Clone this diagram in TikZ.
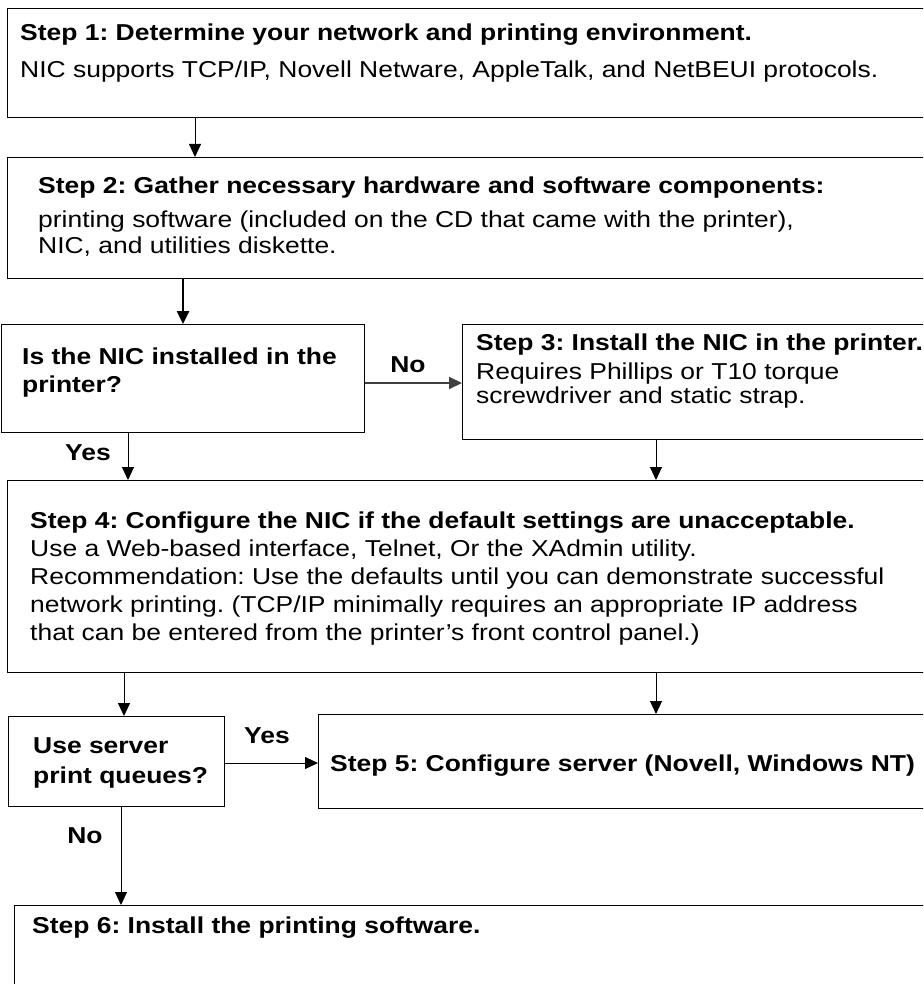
\documentclass[tikz,border=0pt]{standalone}
\usepackage{fontspec}
\setmainfont[FakeStretch=1.15]{Liberation Sans}
\usetikzlibrary{arrows.meta}
\begin{document}
\frenchspacing
\begin{tikzpicture}[x=1pt,y=-1pt,
  box/.style={draw=black, line width=1.3pt, rectangle, inner sep=0pt, anchor=north west},
  txt/.style={inner sep=0pt, anchor=base west, align=left, font=\fontsize{23}{28}\selectfont},
  bt/.style={txt, font=\fontsize{23}{28}\selectfont\bfseries},
  arr/.style={-{Triangle[length=13pt,width=12pt]}, line width=1pt},
  lab/.style={inner sep=0pt, anchor=base, font=\fontsize{23}{28}\selectfont\bfseries}]
\useasboundingbox (0,0) rectangle (923,984);
\clip (0,0) rectangle (923,984);
% boxes
\node[box, minimum width=930pt, minimum height=109pt] (b1) at (7,8) {};
\node[box, minimum width=930pt, minimum height=121pt] (b2) at (7,157) {};
\node[box, minimum width=363pt, minimum height=108pt] (d1) at (0.7,324) {};
\node[box, minimum width=500pt, minimum height=115pt] (b3) at (462,324) {};
\node[box, minimum width=930pt, minimum height=192pt] (b4) at (7,480) {};
\node[box, minimum width=216pt, minimum height=90pt] (d2) at (8,716) {};
\node[box, minimum width=620pt, minimum height=94pt] (b5) at (318,714) {};
\node[box, minimum width=930pt, minimum height=100pt] (b6) at (14,905) {};
% texts (multi-line nodes are placed at the baseline of their last line)
\node[bt] (t1a) at (20,41) {Step 1: Determine your network and printing environment.};
\node[txt] (t1b) at (20,78) {NIC supports TCP/IP, Novell Netware, AppleTalk, and NetBEUI protocols.};
\node[bt] (t2a) at (38,194) {Step 2: Gather necessary hardware and software components:};
\node[txt, font=\fontsize{23}{25}\selectfont] (t2b) at (38,253) {printing software (included on the CD that came with the printer),\\NIC, and utilities diskette.};
\node[bt] (td1) at (22,392) {Is the NIC installed in the\\printer?};
\node[bt] (t3a) at (476,350) {Step 3: Install the NIC in the printer.};
\node[txt, font=\fontsize{23}{24}\selectfont] (t3b) at (476,403) {Requires Phillips or T10 torque\\screwdriver and static strap.};
\node[bt] (t4a) at (30,528) {Step 4: Configure the NIC if the default settings are unacceptable.};
\node[txt] (t4b) at (30,640) {Use a Web-based interface, Telnet, Or the XAdmin utility.\\Recommendation: Use the defaults until you can demonstrate successful\\network printing. (TCP/IP minimally requires an appropriate IP address\\that can be entered from the printer’s front control panel.)};
\node[bt, font=\fontsize{23}{30}\selectfont\bfseries] (td2) at (33,783) {Use server\\print queues?};
\node[bt] (t5) at (330,771) {Step 5: Configure server (Novell, Windows NT)};
\node[bt] (t6) at (32,933) {Step 6: Install the printing software.};
% labels
\node[lab] (lno1) at (408,372) {No};
\node[lab] (lyes1) at (88,460) {Yes};
\node[lab] (lyes2) at (267,743) {Yes};
\node[lab] (lno2) at (85,843) {No};
% connector coordinates
\coordinate (xa) at (195,0);
\coordinate (xb) at (183,0);
\coordinate (xc) at (128,0);
\coordinate (xd) at (656,0);
\coordinate (xe) at (124,0);
\coordinate (xf) at (121,0);
\coordinate (ya) at (0,383);
\coordinate (yb) at (0,763);
% connectors
\draw[arr] (b1.south -| xa) -- (b2.north -| xa);
\draw[arr, line width=2.5pt] (b2.south -| xb) -- (d1.north -| xb);
\draw[arr, line width=2pt, draw=black!75] (d1.east |- ya) -- (b3.west |- ya);
\draw[arr] (d1.south -| xc) -- (b4.north -| xc);
\draw[arr] (b3.south -| xd) -- (b4.north -| xd);
\draw[arr] (b4.south -| xe) -- (d2.north -| xe);
\draw[arr] (b4.south -| xd) -- (b5.north -| xd);
\draw[arr] (d2.east |- yb) -- (b5.west |- yb);
\draw[arr] (d2.south -| xf) -- (b6.north -| xf);
\end{tikzpicture}
\end{document}
